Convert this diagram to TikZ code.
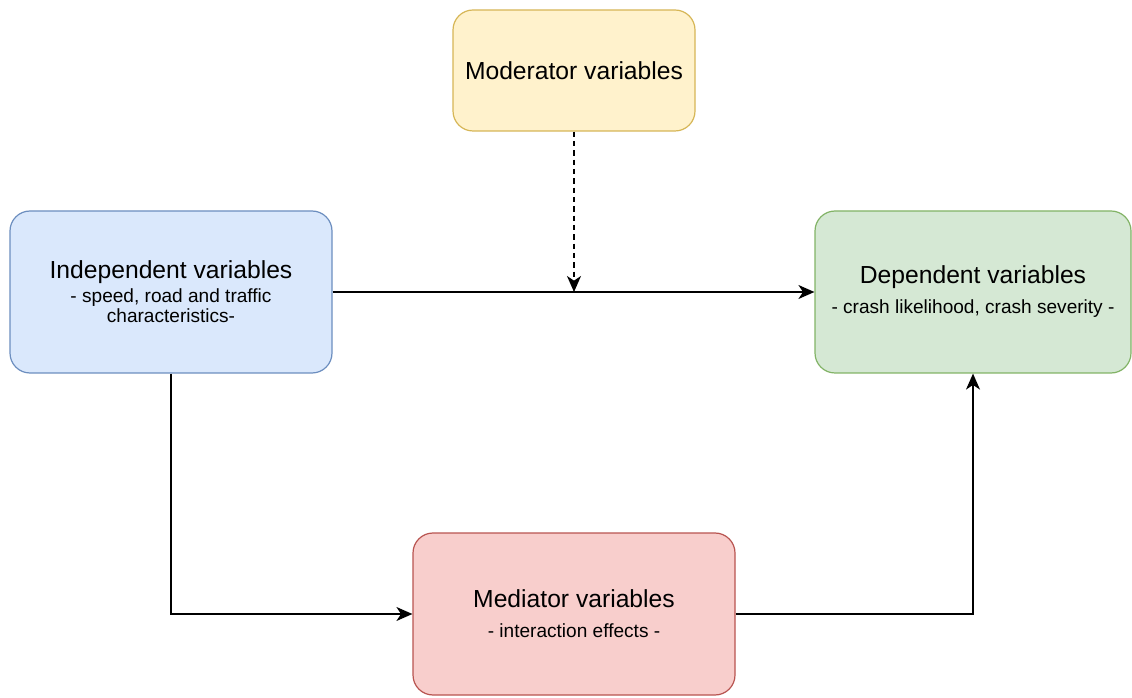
\documentclass[tikz,border=0pt]{standalone}
\usepackage{fontspec}
\setmainfont{Liberation Sans}
\usetikzlibrary{arrows.meta}
\definecolor{modfill}{HTML}{FFF2CC}
\definecolor{moddraw}{HTML}{D6B656}
\definecolor{indfill}{HTML}{DAE8FC}
\definecolor{inddraw}{HTML}{6C8EBF}
\definecolor{depfill}{HTML}{D5E8D4}
\definecolor{depdraw}{HTML}{82B366}
\definecolor{medfill}{HTML}{F8CECC}
\definecolor{meddraw}{HTML}{B85450}
\newcommand{\vtitle}{\fontsize{18.5}{18}\selectfont}
\newcommand{\vsub}{\fontsize{14.3}{15}\selectfont}
\tikzset{varbox/.style={draw,rounded corners=15pt,line width=0.9pt,align=center,inner sep=0pt,
    font=\vsub,minimum width=241.5pt,minimum height=121.5pt}}
\begin{document}
\begin{tikzpicture}[x=0.75pt,y=-0.75pt,>={Stealth[length=12pt,width=10.5pt,inset=3.5pt]},line width=1pt]
\useasboundingbox (0,0) rectangle (1132,698);
%%
\node (mod) at (574,70.5) [varbox,fill=modfill,draw=moddraw,minimum width=181.5pt,minimum height=90.75pt] {\vtitle Moderator variables};
  \node (ind) at (171,292) [varbox,fill=indfill,draw=inddraw] {\vtitle Independent variables\\[3pt]- speed, road and traffic\\characteristics-};
  \node (dep) at (973,292) [varbox,fill=depfill,draw=depdraw,minimum width=237pt] {\vtitle Dependent variables\\[7.5pt]- crash likelihood, crash severity -};
  \node (med) at (574,614) [varbox,fill=medfill,draw=meddraw] {\vtitle Mediator variables\\[7.5pt]- interaction effects -};
  \coordinate (join) at (574,292);
  \draw [black,->] (ind) -- (dep);
  \draw [black,->,dash pattern=on 4pt off 3pt] (mod) -- (join);
  \draw [black,->] (ind.south) |- (med.west);
  \draw [black,->] (med.east) -| (dep.south);
%
\end{tikzpicture}
\end{document}
